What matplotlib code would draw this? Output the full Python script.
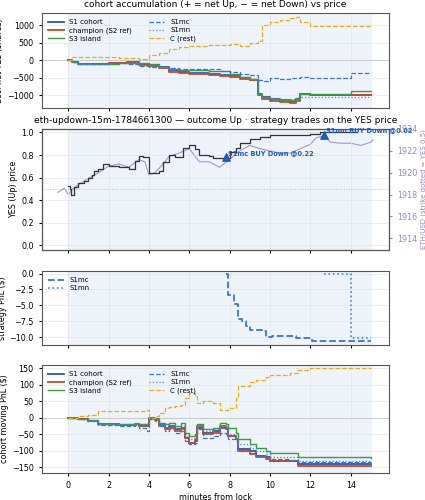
import matplotlib
matplotlib.use("Agg")
import matplotlib.pyplot as plt

# panel 1: accumulated net YES shares
t_acc = [0, 0.2, 0.5, 1, 2, 2.5, 2.9, 3.5, 4, 4.5, 5, 5.5, 6, 7, 7.5, 8, 8.5, 9, 9.4, 9.6,
         10, 10.5, 11, 11.3, 11.5, 12, 13, 14, 15]
acc_s1 = [0, -60, -100, -100, -90, -80, -60, -110, -160, -200, -280, -320, -350, -400, -420, -450,
          -500, -560, -950, -1050, -1100, -1120, -1150, -1100, -950, -980, -980, -980, -980]
acc_champ = [0, -60, -110, -110, -90, -70, -50, -120, -170, -230, -320, -360, -390, -430, -440, -470,
             -520, -560, -1000, -1100, -1150, -1200, -1220, -1150, -960, -980, -980, -980, -980]
acc_s3 = [0, -50, -100, -100, -100, -90, -80, -80, -100, -200, -260, -280, -290, -310, -310, -400,
          -480, -540, -950, -1050, -1100, -1120, -1130, -1100, -960, -950, -950, -880, -880]
acc_mc = [0, -50, -100, -100, -90, -80, -100, -150, -180, -190, -220, -240, -260, -260, -300, -330,
          -380, -420, -560, -600, -500, -540, -510, -490, -480, -500, -500, -350, -350]
acc_mn = [0, -60, -100, -100, -90, -70, -60, -120, -170, -200, -240, -290, -320, -380, -400, -420,
          -480, -540, -1000, -1050, -1080, -1100, -1100, -1050, -1050, -1050, -1050, -1050, -1050]
acc_c = [0, 100, 100, 100, 90, 80, 60, 50, 150, 200, 330, 380, 400, 430, 450, 460, 420, 480, 550,
         1000, 1100, 1150, 1200, 1230, 1100, 980, 980, 980, 980]

# panel 2: YES price and ETH
t_yes = [0, 0.1, 0.15, 0.3, 0.5, 0.8, 1, 1.2, 1.3, 1.5, 1.7, 2, 2.5, 3, 3.3, 3.5, 3.7, 4, 4.5, 4.7,
         5, 5.3, 5.7, 6, 6.3, 6.5, 7, 7.2, 7.8, 8, 8.3, 8.5, 9, 9.5, 10, 11, 12, 12.5, 13, 14, 14.3]
yes = [0.53, 0.50, 0.45, 0.52, 0.55, 0.57, 0.60, 0.62, 0.66, 0.68, 0.72, 0.70, 0.69, 0.68, 0.75,
       0.79, 0.78, 0.64, 0.66, 0.74, 0.80, 0.78, 0.86, 0.89, 0.85, 0.80, 0.79, 0.77, 0.77, 0.83,
       0.86, 0.91, 0.94, 0.96, 0.98, 0.98, 0.99, 1.0, 1.0, 1.0, 1.0]
t_eth = [-0.5, -0.2, 0, 0.2, 0.5, 1, 1.5, 2, 2.5, 3, 3.5, 3.8, 4, 4.3, 4.7, 5, 5.5, 6, 6.5, 7, 7.5,
         8, 8.5, 9, 9.5, 10, 10.5, 11, 11.5, 12, 12.3, 12.7, 13, 13.5, 14, 14.5, 15, 15.1]
eth = [1918.2, 1918.6, 1918.0, 1918.5, 1918.9, 1919.5, 1920.0, 1920.6, 1920.8, 1920.5, 1921.2,
       1921.0, 1919.8, 1920.0, 1920.8, 1921.5, 1921.8, 1922.2, 1921.0, 1921.0, 1920.5, 1921.2,
       1922.0, 1922.5, 1922.2, 1922.0, 1921.8, 1921.8, 1922.2, 1922.6, 1923.2, 1923.4, 1922.8,
       1922.7, 1922.7, 1922.5, 1922.8, 1923.0]
trade_t = [7.8, 12.7]
trade_p = [0.78, 0.98]
trade_labels = ["S1mc BUY Down @0.22", "S1mn BUY Down @0.02"]

# panel 3: strategy PnL
mc_t = [7.8, 7.9, 8.2, 8.4, 8.6, 8.8, 9.0, 9.6, 9.8, 10.1, 11.2, 11.3, 12.0, 12.1, 15]
mc_pnl = [0, -3.3, -4.8, -7.2, -7.5, -8.3, -8.8, -9.0, -10.0, -9.8, -9.8, -10.1, -10.1, -10.5, -10.5]
mn_t = [12.7, 14.0, 15]
mn_pnl = [0, -10.1, -10.1]

# panel 4: cohort moving PnL
t_pnl = [0, 0.5, 1, 1.5, 2.5, 3.3, 3.5, 3.9, 4, 4.3, 4.5, 4.8, 5, 5.3, 5.6, 5.8, 6, 6.3, 6.4, 6.7,
         7.2, 7.5, 7.8, 7.9, 8.3, 8.4, 9, 9.3, 9.8, 10, 11, 11.4, 12, 15]
pnl_s1 = [0, -5, -10, -20, -22, -20, -25, -25, 0, -5, -20, -30, -25, -35, -30, -60, -75, -70, -30,
          -45, -40, -30, -35, -55, -65, -95, -100, -115, -120, -130, -130, -140, -140, -140]
pnl_champ = [0, -5, -10, -18, -22, -20, -24, -24, -2, -8, -25, -35, -30, -40, -35, -60, -75, -65, -25,
             -50, -45, -25, -30, -55, -65, -100, -110, -120, -125, -130, -130, -145, -145, -145]
pnl_s3 = [0, -3, -8, -18, -20, -18, -20, -20, 0, -5, -15, -20, -15, -25, -15, -45, -55, -50, -20,
          -35, -30, -15, -20, -30, -45, -65, -80, -90, -100, -105, -105, -120, -120, -122]
pnl_mc = [0, -5, -10, -22, -24, -22, -30, -40, -5, -10, -25, -40, -35, -45, -40, -70, -80, -75, -35,
          -60, -55, -45, -50, -65, -70, -100, -105, -115, -120, -125, -128, -135, -135, -135]
pnl_mn = [0, -5, -10, -18, -20, -15, -18, -20, 0, -5, -18, -28, -22, -30, -25, -55, -65, -60, -25,
          -40, -35, -30, -35, -50, -60, -80, -90, -100, -110, -120, -120, -130, -130, -130]
pnl_c = [0, 5, 10, 20, 22, 20, 22, 25, 0, 5, 15, 30, 32, 35, 40, 60, 75, 65, 45, 50, 45, 25, 25,
         30, 60, 95, 110, 115, 125, 130, 135, 145, 152, 152]

BLUE = "#2457b0"
RED = "#c24a2a"
GREEN = "#3c9a45"
MC = "#3b74c4"
MN = "#4a86d0"
GOLD = "#e3ad1f"
SPAN = "#eef2f9"

plt.rcParams.update({"font.size": 5.5, "axes.titlesize": 6.5, "axes.labelsize": 5.8,
                     "xtick.labelsize": 5.8, "ytick.labelsize": 5.8,
                     "xtick.major.size": 2.5, "ytick.major.size": 2.5,
                     "axes.labelpad": 2})

fig = plt.figure(figsize=(4.25, 5), dpi=100)
W, H = 425, 500


def box(top, bottom):
    return [42 / W, 1 - bottom / H, 347 / W, (bottom - top) / H]


ax1 = fig.add_axes(box(13, 108))
ax2 = fig.add_axes(box(129, 250))
ax3 = fig.add_axes(box(271, 345))
ax4 = fig.add_axes(box(365, 473))

for ax in (ax1, ax2, ax3, ax4):
    if ax is not ax2:
        ax.axvspan(0, 15, color=SPAN, zorder=0)
    ax.set_xlim(-1.3, 15.9)
    ax.set_xticks(range(0, 15, 2))
    ax.grid(True, color="#e2e5ea", linewidth=0.5)
    ax.set_axisbelow(True)
    for s in ax.spines.values():
        s.set_color("#555555")
    if ax is not ax4:
        ax.tick_params(labelbottom=False)


def cohort(ax, t, s1, ch, s3, mc, mn, c):
    ax.axhline(0, color="#cccccc", linewidth=0.8, zorder=1)
    ax.plot(t, s1, drawstyle="steps-post", color=BLUE, lw=1.3, label="S1 cohort")
    ax.plot(t, ch, drawstyle="steps-post", color=RED, lw=1.3, label="champion (S2 ref)")
    ax.plot(t, s3, drawstyle="steps-post", color=GREEN, lw=1.0, label="S3 island")
    ax.plot(t, mc, drawstyle="steps-post", color=MC, lw=0.9, ls="--", label="S1mc")
    ax.plot(t, mn, drawstyle="steps-post", color=MN, lw=0.9, ls=":", label="S1mn")
    ax.plot(t, c, drawstyle="steps-post", color=GOLD, lw=0.9, ls="--", label="C (rest)")
    ax.legend(loc="upper left", ncol=2, fontsize=5, frameon=False, handlelength=2.2,
              columnspacing=2.5, labelspacing=0.3)


cohort(ax1, t_acc, acc_s1, acc_champ, acc_s3, acc_mc, acc_mn, acc_c)
ax1.set_ylim(-1360, 1350)
ax1.set_yticks([-1000, -500, 0, 500, 1000])
ax1.set_ylabel("acc. net YES (shares)")
ax1.set_title("cohort accumulation (+ = net Up, \u2212 = net Down) vs price", pad=4)

# ETH on twin axis, drawn beneath the price axis
ax2r = ax2.twinx()
ax2r.axvspan(0, 15, color=SPAN, zorder=0)
ax2r.plot(t_eth, eth, color="#a894cc", lw=0.8)
ax2r.set_ylim(1912.93, 1924.0)
ax2r.set_yticks(range(1914, 1925, 2))
ax2r.tick_params(colors="#9b86c4", labelsize=5.8)
ax2r.set_ylabel("ETH/USD (strike dotted = YES 0.5)", color="#9b86c4", fontsize=5)
ax2.set_zorder(ax2r.get_zorder() + 1)
ax2.patch.set_visible(False)

ax2.axhline(0.5, color="#bbbbbb", lw=0.7, ls=":", zorder=1)
ax2.plot(t_yes, yes, drawstyle="steps-post", color="#333333", lw=0.9)
ax2.set_ylim(-0.04, 1.03)
ax2.set_ylabel("YES (Up) price")
ax2.set_title("eth-updown-15m-1784661300 \u2014 outcome Up \u00b7 strategy trades on the YES price", pad=4)
ax2.scatter(trade_t, trade_p, marker="^", s=28, color="#1f5bb5", zorder=5)
for x, y, lab in zip(trade_t, trade_p, trade_labels):
    ax2.text(x + 0.1, y + 0.01, lab, color="#1f5bb5", fontsize=4.8, fontweight="bold", va="bottom")

ax3.plot(mc_t, mc_pnl, drawstyle="steps-post", color=MC, lw=1.3, ls="--", label="S1mc")
ax3.plot(mn_t, mn_pnl, drawstyle="steps-post", color=MN, lw=1.2, ls=":", label="S1mn")
ax3.set_ylim(-11.2, 0.4)
ax3.set_yticks([0, -2.5, -5, -7.5, -10])
ax3.set_ylabel("strategy PnL ($)")
ax3.legend(loc="upper left", fontsize=5, frameon=False, handlelength=2.2, labelspacing=0.3)

cohort(ax4, t_pnl, pnl_s1, pnl_champ, pnl_s3, pnl_mc, pnl_mn, pnl_c)
ax4.set_ylim(-167, 160)
ax4.set_yticks([-150, -100, -50, 0, 50, 100, 150])
ax4.set_ylabel("cohort moving PnL ($)")
ax4.set_xlabel("minutes from lock")

fig.savefig("out.png", dpi=100)
